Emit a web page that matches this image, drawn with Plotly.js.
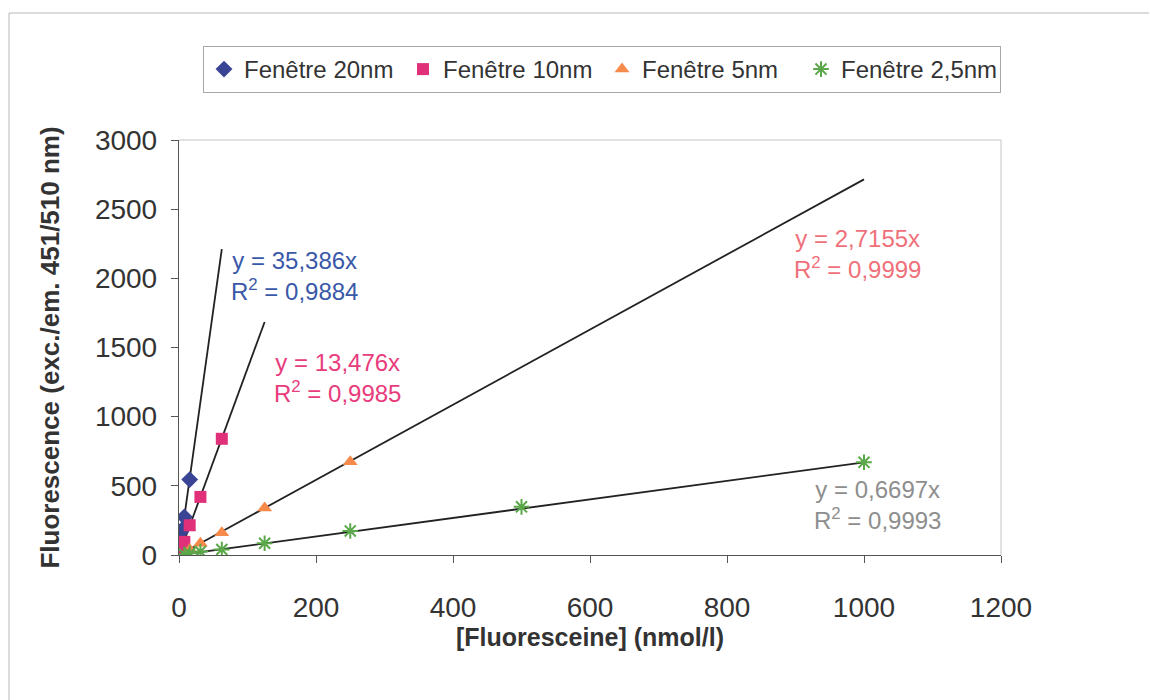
<!DOCTYPE html>
<html>
<head>
<meta charset="utf-8">
<script src="https://cdn.plot.ly/plotly-3.0.1.min.js"></script>
<style>
  html, body { margin: 0; padding: 0; background: #fff; }
  #chart { width: 1150px; height: 700px; }
</style>
</head>
<body>
<div id="chart"></div>
<script>
// ---- Data ----
const seriesNames = ["Fenêtre 20nm", "Fenêtre 10nm", "Fenêtre 5nm", "Fenêtre 2,5nm"];

const x20 = [1.95, 3.9, 7.8, 15.6];
const y20 = [165, 180, 275, 545];

const x10 = [3.9, 7.8, 15.6, 31.25, 62.5];
const y10 = [50, 95, 215, 420, 840];

const x5 = [15.6, 31.25, 62.5, 125, 250];
const y5 = [40, 85, 160, 340, 675];

const x25 = [7.8, 15.6, 31.25, 62.5, 125, 250, 500, 1000];
const y25 = [5, 12, 25, 40, 85, 174, 348, 670];

// linear trendlines through origin (y = a x), drawn from 0 to trendEnd
const slopes   = [35.386, 13.476, 2.7155, 0.6697];
const r2       = ["0,9884", "0,9985", "0,9999", "0,9993"];
const slopeTxt = ["35,386", "13,476", "2,7155", "0,6697"];
const trendEnd = [62.5, 125, 1000, 1000];

// label anchor positions (data units)
const labelX = [169, 231, 990, 1020];
const labelY = [2014, 1283, 2173, 361];

const xTicks = [0, 200, 400, 600, 800, 1000, 1200];
const yTicks = [0, 500, 1000, 1500, 2000, 2500, 3000];

// ---- Styles ----
const FONT = "Liberation Sans, Arial, Helvetica, sans-serif";
const markerColors = ["#3a4494", "#e0307a", "#f58a4a", "#5aa84a"];
const labelColors  = ["#3a58a8", "#e83c7c", "#f0707a", "#8e8e8e"];
const symbols = ["diamond", "square", "triangle-up", "asterisk-open"];
const sizes = [13, 12, 13, 13];

const xs = [x20, x10, x5, x25];
const ys = [y20, y10, y5, y25];

const traces = [];
for (let i = 0; i < 4; i++) {
  traces.push({
    x: [0, trendEnd[i]],
    y: [0, slopes[i] * trendEnd[i]],
    mode: "lines",
    line: { color: "#222", width: 1.8 },
    showlegend: false,
    hoverinfo: "skip"
  });
}
for (let i = 0; i < 4; i++) {
  const m = { symbol: symbols[i], size: sizes[i], color: markerColors[i] };
  if (symbols[i] === "asterisk-open") m.line = { color: markerColors[i], width: 2 };
  traces.push({
    x: xs[i], y: ys[i],
    name: seriesNames[i],
    mode: "markers",
    marker: m,
    type: "scatter"
  });
}

const annotations = [];
for (let i = 0; i < 4; i++) {
  annotations.push({
    x: labelX[i], y: labelY[i], xref: "x", yref: "y",
    text: "y = " + slopeTxt[i] + "x<br>R<sup>2</sup> = " + r2[i],
    showarrow: false, xanchor: "center", yanchor: "middle", align: "center",
    font: { family: FONT, size: 24, color: labelColors[i] }
  });
}

const L = 179, R = 149, T = 140, B = 145, W = 1150, H = 700;
const pw = W - L - R, ph = H - T - B;
const px = v => (v - L) / pw;
const py = v => (H - B - v) / ph;

const shapes = [
  { type: "line", xref: "paper", yref: "paper", x0: 0, x1: 1, y0: 1, y1: 1, line: { color: "#c4c4c4", width: 1 } },
  { type: "line", xref: "paper", yref: "paper", x0: 1, x1: 1, y0: 0, y1: 1, line: { color: "#c4c4c4", width: 1 } },
  { type: "line", xref: "paper", yref: "paper", x0: px(9), x1: px(1149), y0: py(13), y1: py(13), line: { color: "#b8b8b8", width: 1 } },
  { type: "line", xref: "paper", yref: "paper", x0: px(9), x1: px(9), y0: py(13), y1: py(700), line: { color: "#b8b8b8", width: 1 } }
];

const layout = {
  width: W, height: H,
  margin: { l: L, r: R, t: T, b: B },
  paper_bgcolor: "#fff", plot_bgcolor: "#fff",
  font: { family: FONT, color: "#333" },
  showlegend: true,
  legend: {
    orientation: "h",
    x: px(203), xanchor: "left",
    y: py(46), yanchor: "top",
    bordercolor: "#a8a8a8", borderwidth: 1,
    font: { family: FONT, size: 24, color: "#333" },
    entrywidth: 154,
    bgcolor: "#fff"
  },
  xaxis: {
    range: [0, 1200],
    tickvals: xTicks,
    ticktext: xTicks.map(String),
    showgrid: false, zeroline: false,
    showline: true, linecolor: "#555", linewidth: 1.2,
    ticks: "outside", ticklen: 7, tickcolor: "#555",
    tickfont: { family: FONT, size: 28, color: "#333" },
    ticklabelstandoff: 20,
    automargin: false,
    title: { text: "[Fluoresceine] (nmol/l)", font: { family: FONT, size: 25, color: "#333", weight: "bold" }, standoff: 1 }
  },
  yaxis: {
    range: [0, 3000],
    tickvals: yTicks,
    ticktext: yTicks.map(String),
    showgrid: false, zeroline: false,
    showline: true, linecolor: "#555", linewidth: 1.2,
    ticks: "outside", ticklen: 7, tickcolor: "#555",
    tickfont: { family: FONT, size: 28, color: "#333" },
    ticklabelstandoff: 8,
    automargin: false,
    title: { text: "Fluorescence (exc./em. 451/510 nm)", font: { family: FONT, size: 26, color: "#333", weight: "bold" }, standoff: 27 }
  },
  annotations: annotations,
  shapes: shapes
};

Plotly.newPlot("chart", traces, layout, { displayModeBar: false, staticPlot: true });
</script>
</body>
</html>
